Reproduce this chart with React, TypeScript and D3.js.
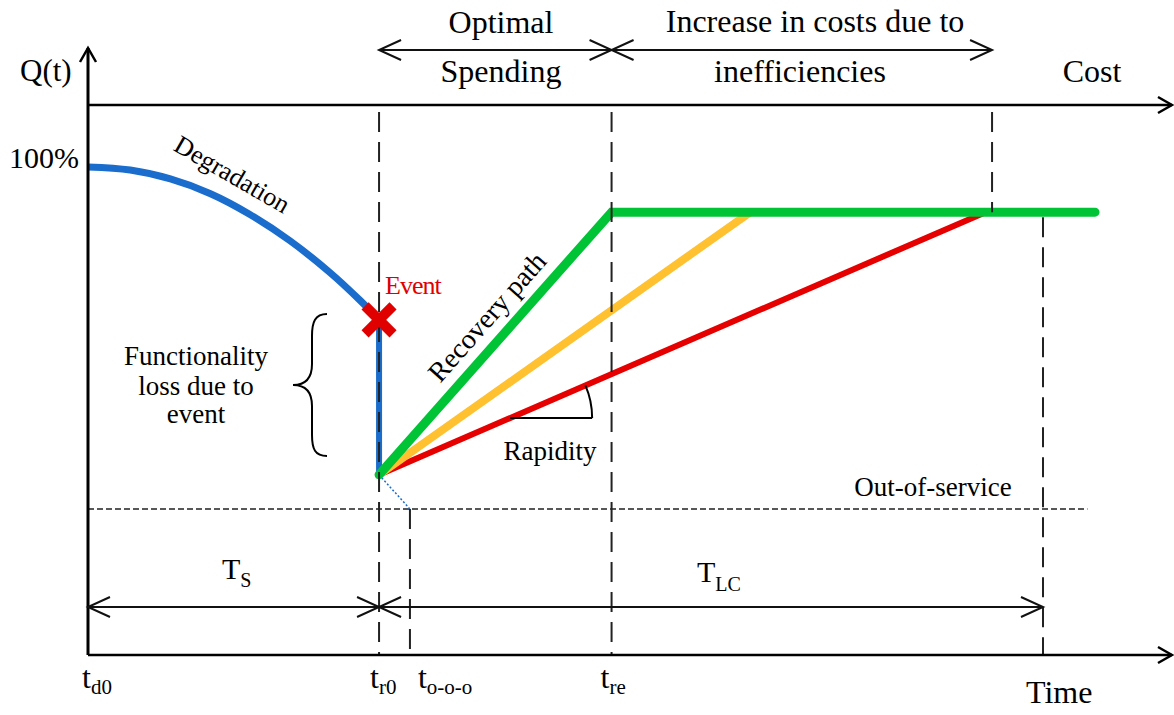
import React from 'react';
import * as d3 from 'd3';

// ---- data (time in arbitrary units, Q(t) in % of functionality) ----
const degradationT = [0, 3.9, 7.6, 11.3, 14.9, 18.6, 22.3, 25.1, 26.85];
const degradationQ = [100, 99.1, 96.5, 92.2, 86.2, 78.5, 69.2, 61.0, 55.3];
const eventTime = 26.85;
const eventQ = 55.3;
const residualQ = 10;
const recoveredQ = 86.8;
const outOfServiceQ = 0;
const outOfServiceTime = 29.7;
const recoveryEndTime = 48.3;
const costEndTime = 83.4;
const lifeCycleEndTime = 88.1;
const plateauEndTime = 92.9;
const outOfServiceLineEnd = 92.2;
const rapidityQ = 26.6;

const pathNames = ['slow', 'medium', 'optimal'];
const pathEndT = [82.8, 61.1, 48.3];
const pathColors = ['#e60000', '#ffc12f', '#00c435'];
const pathWidths = [6, 8, 9];

const timeLabelSub = ['d0', 'r0', 'o-o-o', 're'];
const timeLabelAt = [0, 26.85, 29.7, 48.3];

// ---- layout ----
const W = 1174;
const H = 715;
const timeAxisY = 655;
const costAxisY = 105;
const yAxisTop = 48;
const axisRight = 1172;
const topArrowY = 50;
const bottomArrowY = 607;
const topDashStart = 112;
const labelOffsets = [-6, -9, 8, -11];
const font = '"Liberation Serif", "Times New Roman", serif';

const x = d3.scaleLinear().domain([0, 100]).range([88, 1172]);
const y = d3.scaleLinear().domain([0, 100]).range([509, 167]);

function chevron(tx: number, ty: number, dx: number, dy: number, len = 22, hw = 10) {
  const px = -dy, py = dx;
  const bx = tx - dx * len, by = ty - dy * len;
  return `M${bx + px * hw},${by + py * hw}L${tx},${ty}L${bx - px * hw},${by - py * hw}`;
}

function DoubleArrow({ x1, x2, yy }: { x1: number; x2: number; yy: number }) {
  return (
    <g stroke="#111" strokeWidth={2} fill="none">
      <line x1={x1} y1={yy} x2={x2} y2={yy} />
      <path d={chevron(x1, yy, -1, 0)} />
      <path d={chevron(x2, yy, 1, 0)} />
    </g>
  );
}

export default function App() {
  const line = d3.line<number>()
    .x((_, i) => x(degradationT[i]))
    .y((d) => y(d))
    .curve(d3.curveCatmullRom);
  const degPath = line(degradationQ) || '';

  const x0 = x(0);
  const xr0 = x(eventTime);
  const xooo = x(outOfServiceTime);
  const xre = x(recoveryEndTime);
  const xce = x(costEndTime);
  const xlc = x(lifeCycleEndTime);
  const yRec = y(recoveredQ);
  const yRes = y(residualQ);
  const yOut = y(outOfServiceQ);

  // rapidity angle on the slowest path
  const rx0 = xr0, ry0 = yRes;
  const rx1 = x(pathEndT[0]), ry1 = yRec;
  const slope = (ry1 - ry0) / (rx1 - rx0);
  const yR = y(rapidityQ);
  const cx = rx0 + (yR - ry0) / slope;
  const ang = Math.atan2(-(ry1 - ry0), rx1 - rx0);
  const rr = 82;
  const arcD = `M${cx + rr},${yR}A${rr},${rr} 0 0 0 ${cx + rr * Math.cos(ang)},${yR - rr * Math.sin(ang)}`;

  const dash = '20,10';
  const ex = x(eventTime), ey = y(eventQ);

  return (
    <svg width={W} height={H} style={{ position: 'absolute', left: 0, top: 0, background: '#fff' }} fontFamily={font}>
      <rect width={W} height={H} fill="#fff" />

      {/* out-of-service line */}
      <line x1={x0} x2={x(outOfServiceLineEnd)} y1={yOut} y2={yOut} stroke="#222" strokeWidth={1.5} strokeDasharray="6,3" />

      {/* degradation */}
      <path d={degPath} fill="none" stroke="#1a6dcc" strokeWidth={7} />
      <line x1={ex} x2={ex} y1={ey} y2={yRes} stroke="#1a6dcc" strokeWidth={6} />
      <line x1={xr0} y1={yRes} x2={xooo} y2={yOut} stroke="#1a6dcc" strokeWidth={1.5} strokeDasharray="2,2" />

      {/* recovery paths */}
      {pathNames.map((n, i) => {
        const pts: [number, number][] = [[xr0, yRes], [x(pathEndT[i]), yRec]];
        if (n === 'optimal') pts.push([x(plateauEndTime), yRec]);
        return (
          <path key={n} d={d3.line()(pts) || ''} fill="none" stroke={pathColors[i]} strokeWidth={pathWidths[i]}
            strokeLinecap="round" strokeLinejoin="miter" />
        );
      })}

      {/* vertical dashed guides */}
      <g stroke="#222" strokeWidth={2} strokeDasharray={dash}>
        <line x1={xr0} x2={xr0} y1={topDashStart} y2={timeAxisY} />
        <line x1={xre} x2={xre} y1={topDashStart} y2={timeAxisY} />
        <line x1={xce} x2={xce} y1={topDashStart} y2={yRec} />
        <line x1={xlc} x2={xlc} y1={yRec + 5} y2={timeAxisY} />
        <line x1={xooo} x2={xooo} y1={yOut} y2={timeAxisY} />
      </g>

      {/* event marker */}
      <g stroke="#e00000" strokeWidth={10}>
        <line x1={ex - 14} y1={ey - 14} x2={ex + 14} y2={ey + 14} />
        <line x1={ex - 14} y1={ey + 14} x2={ex + 14} y2={ey - 14} />
      </g>
      <text x={ex + 6} y={ey - 26} fill="#e00000" fontSize={26} letterSpacing={-1}>Event</text>

      {/* axes */}
      <g stroke="#000" fill="none" strokeWidth={2.5}>
        <line x1={x0} x2={x0} y1={timeAxisY} y2={yAxisTop} strokeWidth={3} />
        <path d={chevron(x0, yAxisTop, 0, -1, 14, 8)} />
        <line x1={x0} x2={axisRight} y1={timeAxisY} y2={timeAxisY} />
        <path d={chevron(axisRight, timeAxisY, 1, 0, 14, 8)} />
        <line x1={x0} x2={axisRight} y1={costAxisY} y2={costAxisY} />
        <path d={chevron(axisRight, costAxisY, 1, 0, 14, 8)} />
      </g>

      {/* span arrows */}
      <DoubleArrow x1={xr0} x2={xre} yy={topArrowY} />
      <DoubleArrow x1={xre} x2={xce} yy={topArrowY} />
      <DoubleArrow x1={x0} x2={xr0} yy={bottomArrowY} />
      <DoubleArrow x1={xr0} x2={xlc} yy={bottomArrowY} />

      {/* brace */}
      <path d="M327,314 C315,314 312,322 312,336 L312,364 C312,378 306,385 293,385 C306,385 312,392 312,406 L312,435 C312,449 315,456 327,456"
        fill="none" stroke="#000" strokeWidth={2} />

      {/* rapidity */}
      <line x1={cx} x2={cx + rr} y1={yR} y2={yR} stroke="#000" strokeWidth={2} />
      <path d={arcD} fill="none" stroke="#000" strokeWidth={2} />

      {/* texts */}
      <g fill="#000">
        <text x={20} y={81} fontSize={31}>Q(t)</text>
        <text x={79} y={168} fontSize={30} textAnchor="end">100%</text>
        <text x={501} y={33} fontSize={32} textAnchor="middle">Optimal</text>
        <text x={501} y={82} fontSize={32} textAnchor="middle">Spending</text>
        <text x={815} y={32} fontSize={32} textAnchor="middle">Increase in costs due to</text>
        <text x={800} y={82} fontSize={32} textAnchor="middle">inefficiencies</text>
        <text x={1092} y={82} fontSize={32} textAnchor="middle">Cost</text>
        <text x={228} y={182} fontSize={26} textAnchor="middle" transform="rotate(30 228 182)">Degradation</text>
        <text x={494} y={323} fontSize={28} textAnchor="middle" transform="rotate(-48.5 494 323)">Recovery path</text>
        <text x={196} y={365} fontSize={27} textAnchor="middle">Functionality</text>
        <text x={196} y={395} fontSize={27} textAnchor="middle">loss due to</text>
        <text x={196} y={423} fontSize={27} textAnchor="middle">event</text>
        <text x={550} y={460} fontSize={27} textAnchor="middle">Rapidity</text>
        <text x={933} y={496} fontSize={27} textAnchor="middle">Out-of-service</text>
        <text x={222} y={579} fontSize={30}>T<tspan fontSize={20} dy={8}>S</tspan></text>
        <text x={697} y={582} fontSize={30}>T<tspan fontSize={20} dy={9}>LC</tspan></text>
        {timeLabelSub.map((s, i) => (
          <text key={s} x={x(timeLabelAt[i]) + labelOffsets[i]} y={688} fontSize={32}>
            t<tspan fontSize={21} dy={6}>{s}</tspan>
          </text>
        ))}
        <text x={1026} y={703} fontSize={32}>Time</text>
      </g>
    </svg>
  );
}
